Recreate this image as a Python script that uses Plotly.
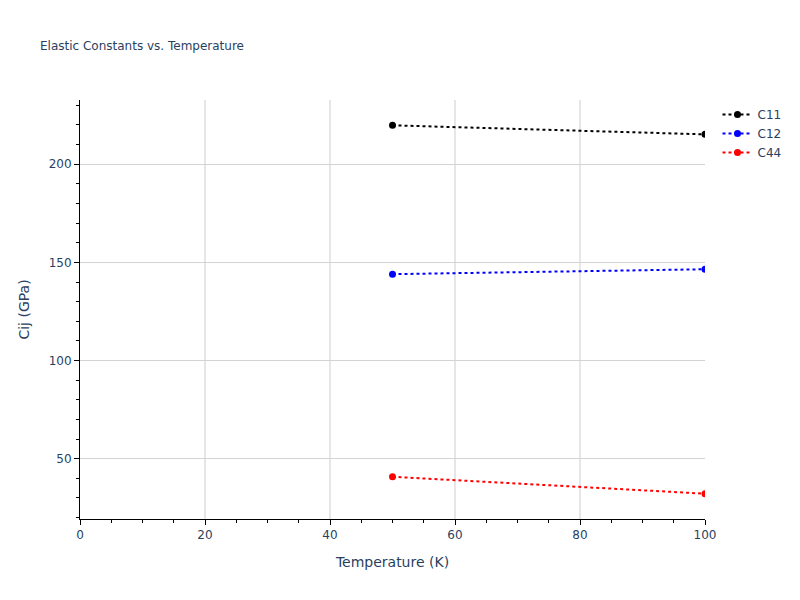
import plotly.graph_objects as go

temperature = [50, 100]
c11 = [219.8, 215.2]
c12 = [144.0, 146.5]
c44 = [40.8, 32.2]

series = [("C11", c11, "black"), ("C12", c12, "blue"), ("C44", c44, "red")]

fig = go.Figure()
for name, vals, col in series:
    fig.add_trace( go.Scatter( x=temperature, y=vals, mode="lines+markers", name=name,
                               line={ "color" : col, "dash" : "dot", "width" : 2 },
                               marker={ "color" : col, "size" : 7 } ) )

axis_style = dict( showline=True, linecolor="black", linewidth=1, ticks="outside",
                   tickcolor="black", showgrid=True, zeroline=False )
fig.update_xaxes( title="Temperature (K)", range=[0, 100], dtick=20, gridcolor="#e6e6e6", gridwidth=2,
                  minor=dict( ticks="outside", dtick=5, tickcolor="black", showgrid=False ), **axis_style )
fig.update_yaxes( title="Cij (GPa)", dtick=50, gridcolor="lightgrey", gridwidth=1,
                  minor=dict( ticks="outside", dtick=10, tickcolor="black", showgrid=False ), **axis_style )
fig.update_layout( title=dict( text="Elastic Constants vs. Temperature", font=dict( size=12 ),
                               x=0.04, xanchor="left", y=1 - 38 / 600, yanchor="middle" ),
                   font=dict( family="DejaVu Sans, Verdana, sans-serif" ),
                   width=800, height=600,
                   margin=dict( l=72, r=103, t=92, b=89 ),
                   plot_bgcolor="white", paper_bgcolor="white" )

fig.write_html("out.html")
